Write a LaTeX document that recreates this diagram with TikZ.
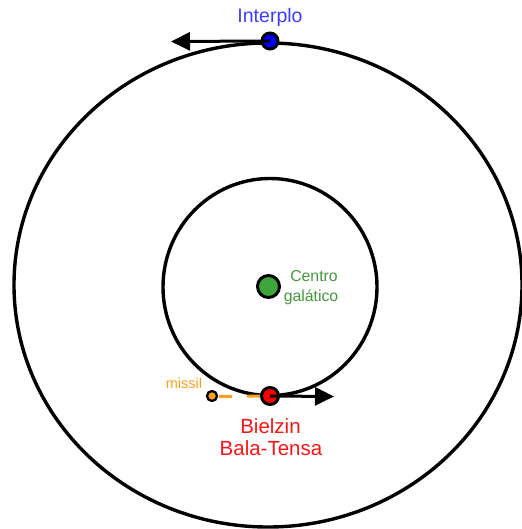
\documentclass[tikz,border=0pt]{standalone}
\usepackage{fontspec}
\setmainfont{Liberation Sans}
\usetikzlibrary{arrows.meta}
\definecolor{bluetxt}{RGB}{60,60,255}
\definecolor{redtxt}{RGB}{250,20,20}
\definecolor{greentxt}{RGB}{70,150,60}
\definecolor{greenfill}{RGB}{60,165,60}
\definecolor{orangec}{RGB}{250,160,30}
\tikzset{
  orbit/.style={line width=3.4pt, draw=black},
  dotnode/.style={circle, draw=black, line width=3pt, inner sep=0pt, minimum size=#1},
  vel/.style={line width=3pt, -{Triangle[length=19pt,width=18pt]}},
  lbl/.style={anchor=base, inner sep=0pt, font=\fontsize{#1}{#1}\selectfont},
}
\begin{document}
\begin{tikzpicture}[x=1pt,y=-1pt]
\useasboundingbox (0,0) rectangle (521,529);
% orbits
\draw[orbit] (268,285) ellipse [x radius=254, y radius=242];
\draw[orbit] (270,287) ellipse [x radius=107, y radius=108.5];
% galactic centre
\node[dotnode=22pt, fill=greenfill] (gc) at (268.5,286.5) {};
\node[lbl=15.8, text=greentxt] (gct1) at (314,281) {Centro};
\node[lbl=15.8, text=greentxt] (gct2) at (311,301.5) {galático};
% Interplo
\node[dotnode=16pt, fill=blue] (ip) at (270,41) {};
\coordinate (ipend) at (171,41.5);
\draw[vel] (ip.center) -- (ipend);
\node[lbl=19.5, text=bluetxt] (ipt) at (270,23) {Interplo};
% Bielzin
\node[dotnode=17pt, fill=red] (bz) at (270,396) {};
\coordinate (bzend) at (334,396.5);
\draw[vel] (bz.center) -- (bzend);
\node[lbl=20.5, text=redtxt] (bzt1) at (270.5,433) {Bielzin};
\node[lbl=20.5, text=redtxt] (bzt2) at (271,455) {Bala-Tensa};
% missile
\node[dotnode=10pt, fill=orangec, line width=2.2pt] (ms) at (212,396) {};
\draw[orangec, line width=3pt, dash pattern=on 13pt off 15pt] (ms.east) ++(1,0.5) -- (bz.west);
\node[lbl=14.5, text=orangec] (mst) at (184,388) {missil};
\end{tikzpicture}
\end{document}
